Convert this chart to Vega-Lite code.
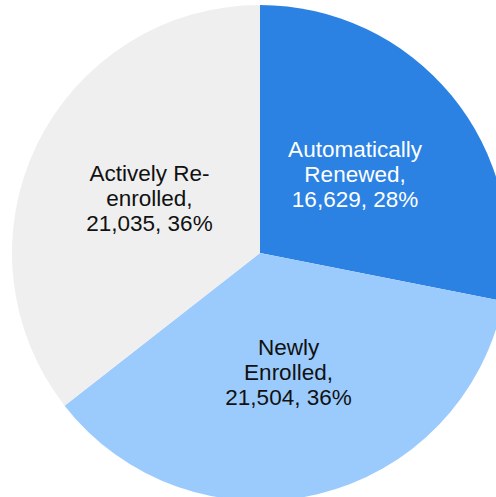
{
  "$schema": "https://vega.github.io/schema/vega-lite/v6.json",
  "width": 520,
  "height": 506,
  "padding": 0,
  "autosize": {"type": "none"},
  "background": "white",
  "config": {"view": {"stroke": null}},
  "data": {
    "values": [
      {"category": "Automatically Renewed", "value": 16629, "order": 1, "text": "Automatically\nRenewed,\n16,629,  28%"},
      {"category": "Newly Enrolled", "value": 21504, "order": 2, "text": "Newly\nEnrolled,\n21,504,  36%"},
      {"category": "Actively Re-enrolled", "value": 21035, "order": 3, "text": "Actively Re-\nenrolled,\n21,035,  36%"}
    ]
  },
  "encoding": {
    "theta": {"field": "value", "type": "quantitative", "stack": true},
    "order": {"field": "order", "type": "quantitative"}
  },
  "layer": [
    {
      "mark": {"type": "arc", "outerRadius": 248, "stroke": null},
      "encoding": {
        "color": {
          "field": "category",
          "type": "nominal",
          "scale": {
            "domain": ["Automatically Renewed", "Newly Enrolled", "Actively Re-enrolled"],
            "range": ["#2b82e3", "#9bcbfd", "#efefef"]
          },
          "legend": null
        }
      }
    },
    {
      "mark": {"type": "text", "radius": 123, "lineBreak": "\n", "font": "Liberation Sans", "fontSize": 22.5, "lineHeight": 25, "align": "center", "baseline": "middle", "dy": -25},
      "encoding": {
        "text": {"field": "text", "type": "nominal"},
        "color": {
          "field": "category",
          "type": "nominal",
          "scale": {
            "domain": ["Automatically Renewed", "Newly Enrolled", "Actively Re-enrolled"],
            "range": ["#ffffff", "#111111", "#111111"]
          },
          "legend": null
        }
      }
    }
  ],
  "resolve": {"scale": {"color": "independent"}}
}
